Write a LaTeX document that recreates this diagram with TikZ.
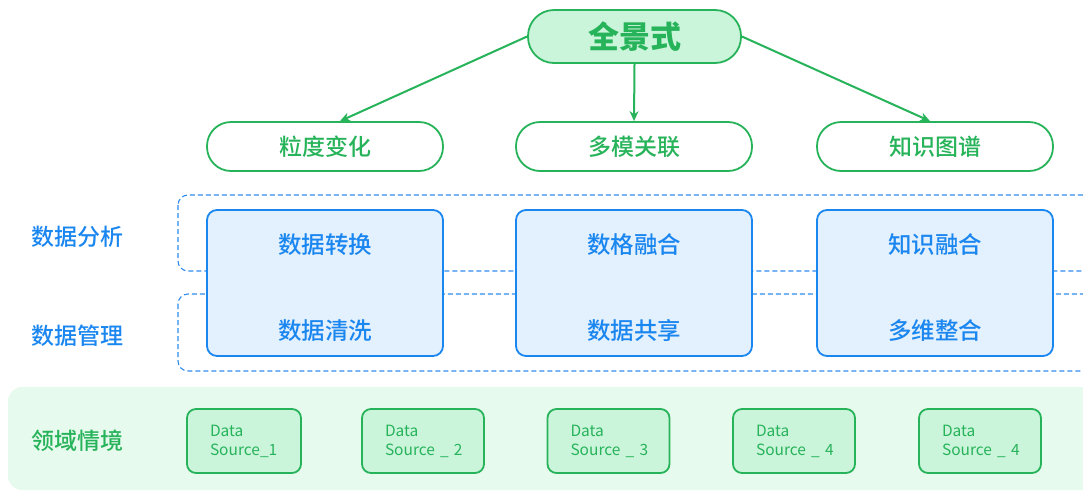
\documentclass[tikz,border=0pt]{standalone}
\usepackage{fontspec}
\setmainfont{Noto Sans CJK SC}
\newfontfamily\cjkmedium{Noto Sans CJK SC Medium}
\usetikzlibrary{arrows.meta}
\definecolor{leafgreen}{HTML}{27B35A}
\definecolor{mintfill}{HTML}{CBF5DB}
\definecolor{bandfill}{HTML}{E7FAEE}
\definecolor{skyblue}{HTML}{1A86F0}
\definecolor{icefill}{HTML}{E3F0FD}
\definecolor{dashblue}{HTML}{2F8CEE}
\begin{document}
\begin{tikzpicture}[x=1pt, y=-1pt,
  pill/.style={draw=leafgreen, line width=1.8pt, fill=white, rounded corners=24pt,
    minimum width=236pt, minimum height=49pt, text=leafgreen, font=\cjkmedium\fontsize{23}{26}\selectfont},
  stack/.style={draw=skyblue, line width=1.8pt, fill=icefill, rounded corners=10pt},
  stacktext/.style={text=skyblue, font=\cjkmedium\fontsize{23.5}{26}\selectfont},
  layer/.style={draw=dashblue, line width=1.1pt, dash pattern=on 5pt off 3pt, rounded corners=10pt},
  sidelabel/.style={font=\cjkmedium\fontsize{23}{26}\selectfont},
  src/.style={draw=leafgreen, line width=1.8pt, fill=mintfill, rounded corners=9pt,
    minimum height=64pt, inner xsep=0pt, align=left, text=leafgreen,
    font=\fontsize{15.5}{19}\selectfont},
  link/.style={draw=leafgreen, line width=2pt, -{Stealth[length=10pt,width=9pt]}}]
\useasboundingbox (0,0) rectangle (1083,491);
\clip (0,0) rectangle (1083,491);
% bottom band and dashed layers
\fill [bandfill, rounded corners=14pt] (8,387) rectangle (1110,490);
\draw [layer] (178,195) rectangle (1110,271);
\draw [layer] (178,294) rectangle (1110,371);
% top
\node [draw=leafgreen, line width=1.8pt, fill=mintfill, rounded corners=26pt,
  minimum width=213pt, minimum height=53pt, text=leafgreen,
  font=\bfseries\fontsize{31}{34}\selectfont] (panorama) at (634.5,36.5) {全景式};
\node [pill] (granularity) at (325,146.5) {粒度变化};
\node [pill] (multimodal) at (634,146.5) {多模关联};
\node [pill] (knowgraph) at (935,146.5) {知识图谱};
\draw [link] (panorama.west) -- ([xshift=15pt]granularity.north);
\draw [link] (panorama.south) -- (multimodal.north);
\draw [link] (panorama.east) -- ([xshift=-5pt]knowgraph.north);
% blue columns
\draw [stack] (207,210) rectangle (443,356);
\draw [stack] (516,210) rectangle (752,356);
\draw [stack] (817,210) rectangle (1053,356);
\node [stacktext] (convert) at (325,245) {数据转换};
\node [stacktext] (clean) at (325,331) {数据清洗};
\node [stacktext] (gridfuse) at (634,245) {数格融合};
\node [stacktext] (share) at (634,331) {数据共享};
\node [stacktext] (knowfuse) at (935,245) {知识融合};
\node [stacktext] (integrate) at (935,331) {多维整合};
% side labels
\node [sidelabel, text=skyblue] (analysis) at (77,237) {数据分析};
\node [sidelabel, text=skyblue] (management) at (77,336) {数据管理};
\node [sidelabel, text=leafgreen] (domain) at (77,441) {领域情境};
% data sources
\node [src, minimum width=114pt, text width=68pt] (srcA) at (244,441) {Data\\Source\_1};
\node [src, minimum width=122pt, text width=76pt] (srcB) at (423,441) {Data\\Source~\_~2};
\node [src, minimum width=122pt, text width=76pt] (srcC) at (608.5,441) {Data\\Source~\_~3};
\node [src, minimum width=122pt, text width=76pt] (srcD) at (794,441) {Data\\Source~\_~4};
\node [src, minimum width=122pt, text width=76pt] (srcE) at (980,441) {Data\\Source~\_~4};
\end{tikzpicture}
\end{document}
